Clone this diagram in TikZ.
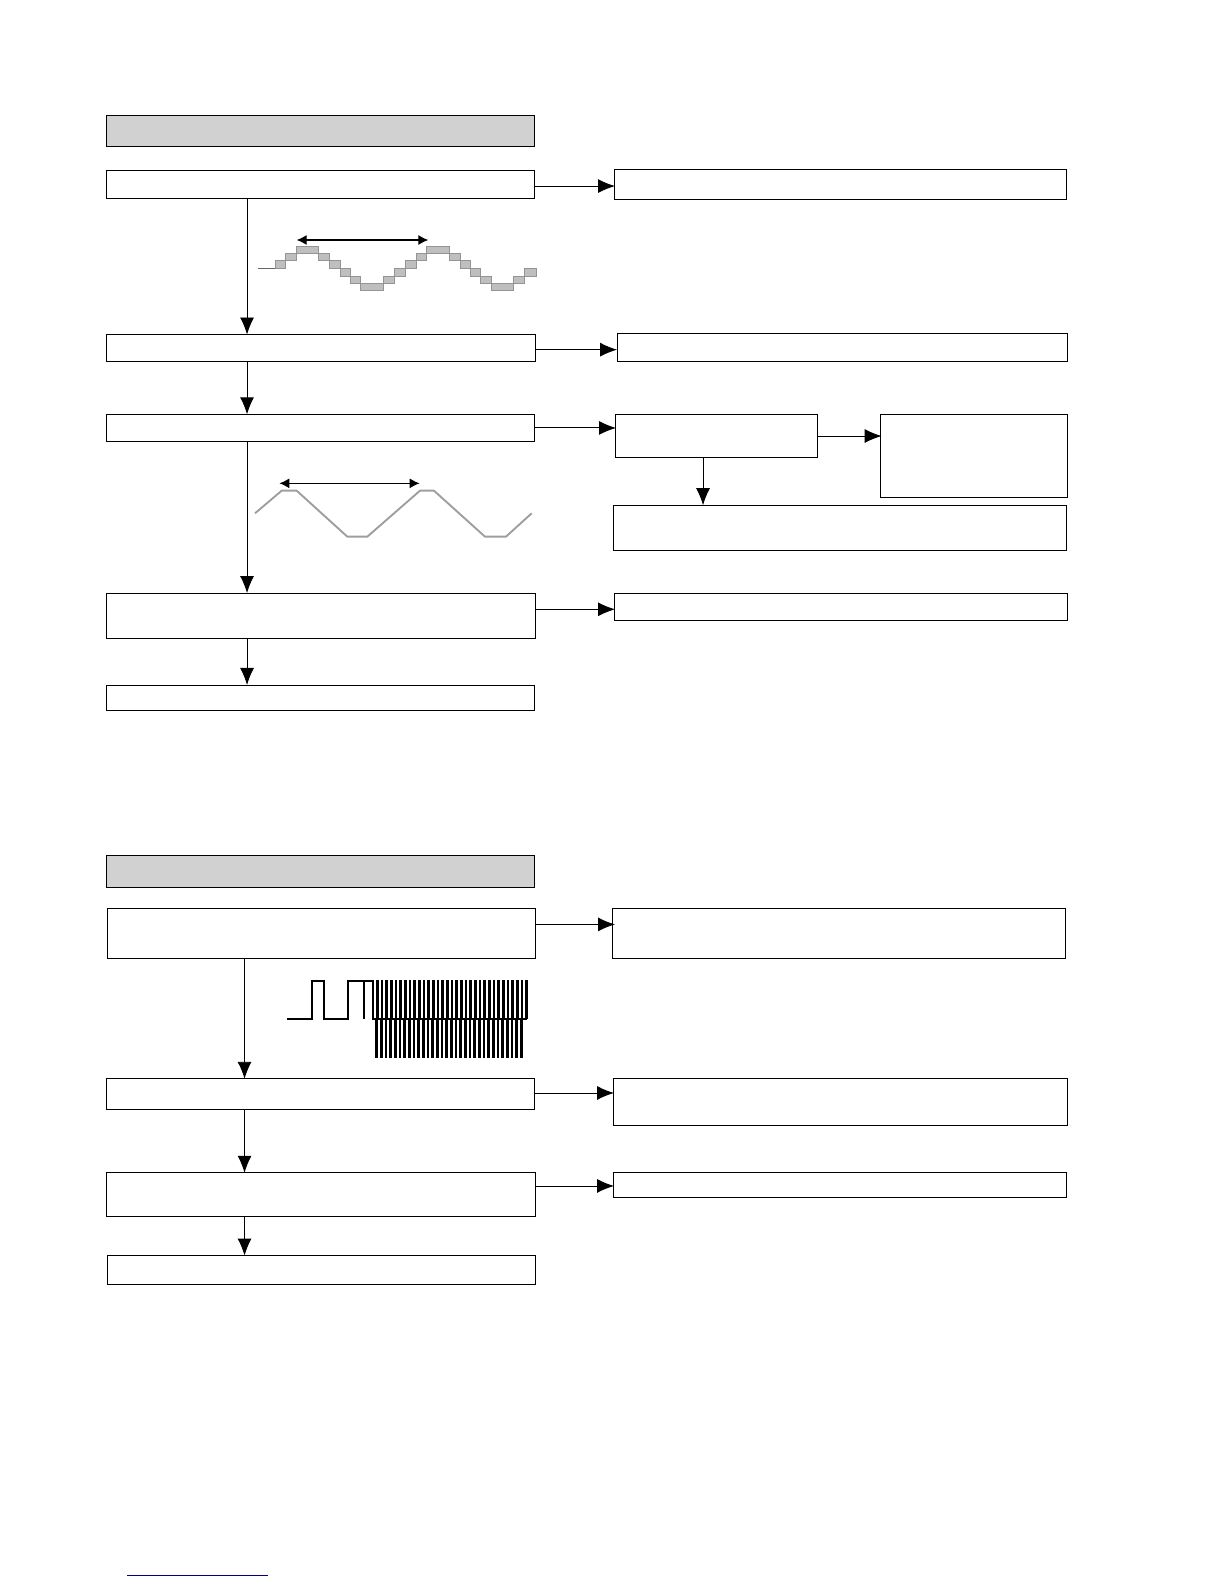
\documentclass[tikz,border=0pt]{standalone}
\usetikzlibrary{arrows.meta}
\definecolor{rulenavy}{RGB}{0,0,128}
\newcommand{\bx}[6][boxplain]{%
  \pgfmathsetmacro{\cxv}{(#3+#5)/2*1.0099}%
  \pgfmathsetmacro{\cyv}{-(#4+#6)/2*1.0099-0.25}%
  \pgfmathsetmacro{\wv}{(#5-#3)*1.0099}%
  \pgfmathsetmacro{\hv}{(#6-#4)*1.0099}%
  \node[#1,minimum width=\wv pt,minimum height=\hv pt] (#2) at (\cxv,\cyv) {};%
}
\tikzset{
  boxplain/.style={draw=black,fill=white,line width=0.9pt,inner sep=0pt,outer sep=0pt},
  boxhead/.style={boxplain,fill=black!18},
  arr/.style={draw=black,line width=0.9pt,-{Latex[length=17pt,width=14pt]}},
  dbl/.style={draw=black,line width=1.2pt,{Latex[length=10pt,width=10pt]}-{Latex[length=10pt,width=10pt]}},
  stair/.style={fill=black!25,draw=black!42,line width=0.9pt},
  tri/.style={draw=black!38,line width=1.9pt,line join=round},
  pulse/.style={draw=black,line width=2.7pt},
  pagerule/.style={draw=rulenavy,line width=1pt}
}
\begin{document}
\begin{tikzpicture}[x=1pt,y=1pt]
\useasboundingbox (0,0) rectangle (1224,-1584);
\bx[boxhead]{ha}{105}{114}{529}{145}
\bx{aa}{105}{169}{529}{196}
\bx{ra}{608}{168}{1056}{197}
\bx{ab}{105}{331}{530}{358}
\bx{rb}{611}{330}{1057}{358}
\bx{ac}{105}{410}{529}{437}
\bx{rc}{609}{410}{809}{453}
\bx{rd}{872}{410}{1057}{492}
\bx{re}{607}{500}{1056}{545}
\bx{ad}{105}{587}{530}{632}
\bx{rf}{608}{587}{1057}{614}
\bx{ae}{105}{678}{529}{703}
\bx[boxhead]{hb}{105}{847}{529}{878}
\bx{ba}{106}{899}{530}{949}
\bx{sa}{606}{899}{1055}{949}
\bx{bb}{105}{1068}{529}{1098}
\bx{sb}{607}{1068}{1057}{1114}
\bx{bc}{105}{1161}{530}{1204}
\bx{sc}{607}{1161}{1056}{1185}
\bx{bd}{106}{1243}{530}{1272}
% vertical connectors
\draw[arr] ([xshift=141]aa.south west) -- ([xshift=141]aa.south west |- ab.north);
\draw[arr] ([xshift=141]ab.south west) -- ([xshift=141]ab.south west |- ac.north);
\draw[arr] ([xshift=141]ac.south west) -- ([xshift=141]ac.south west |- ad.north);
\draw[arr] ([xshift=141]ad.south west) -- ([xshift=141]ad.south west |- ae.north);
\draw[arr] ([xshift=137.5]ba.south west) -- ([xshift=137.5]ba.south west |- bb.north);
\draw[arr] ([xshift=138.5]bb.south west) -- ([xshift=138.5]bb.south west |- bc.north);
\draw[arr] ([xshift=138.5]bc.south west) -- ([xshift=138.5]bc.south west |- bd.north);
\draw[arr] ([xshift=88]rc.south west) -- ([xshift=88]rc.south west |- re.north);
% horizontal connectors
\draw[arr] ([yshift=-1.5]aa.east) -- ([yshift=-1.5,xshift=1]aa.east -| ra.west);
\draw[arr] ([yshift=-1.5]ab.east) -- ([yshift=-1.5]ab.east -| rb.west);
\draw[arr] (ac.east) -- ([xshift=1]ac.east -| rc.west);
\draw[arr] (rc.east) -- ([xshift=1]rc.east -| rd.west);
\draw[arr] ([yshift=6.5]ad.east) -- ([yshift=6.5,xshift=1]ad.east -| rf.west);
\draw[arr] ([yshift=9]ba.east) -- ([yshift=9,xshift=3]ba.east -| sa.west);
\draw[arr] ([yshift=1]bb.east) -- ([yshift=1,xshift=1]bb.east -| sb.west);
\draw[arr] ([yshift=8.5]bc.east) -- ([yshift=8.5,xshift=1]bc.east -| sc.west);
% stepped wave
\begin{scope}[shift={(240,-220)},x=0.3333pt,y=-0.3333pt]
\draw[draw=black!60,line width=0.8pt] (55,145) -- (105,145);
\foreach \a/\b/\c/\d in {105/122/135/145,135/100/168/122,168/80/235/100,235/100/268/122,268/122/300/145,300/145/330/168,330/168/362/190,362/190/430/212,430/168/462/190,462/145/495/168,495/122/528/145,528/100/560/122,560/80/627/100,627/100/660/122,660/122/692/145,692/145/722/168,722/168/755/190,755/190/820/212,820/168/853/190,853/145/888/168}
  \path[stair] (\a,\b) rectangle (\c,\d);
\draw[dbl] (170,60) -- (565,60);
\end{scope}
% triangular wave
\begin{scope}[shift={(240,-470)},x=0.3333pt,y=-0.3333pt]
\draw[tri] (45,130) -- (125,62) -- (170,62) -- (322,200) -- (382,200) -- (540,62) -- (582,62) -- (735,200) -- (798,200) -- (875,130);
\draw[dbl] (118,40) -- (539,40);
\end{scope}
% pulse train
\begin{scope}[shift={(280,-970)},x=0.3333pt,y=-0.3333pt]
\draw[pulse,line width=1.8pt,line join=miter] (22,148) -- (97,148) -- (97,32) -- (132,32) -- (132,148) -- (205,148) -- (205,32) -- (280,32) -- (280,148) -- (740,148);
\draw[pulse,line width=2.2pt] (253,32) -- (253,148);
\foreach \i in {1,...,33}
  \draw[pulse] ({278+\i*14},30) -- ({278+\i*14},148);
\foreach \i in {0,...,31}
  \draw[pulse] ({290+\i*14},148) -- ({290+\i*14},265);
\end{scope}
% rule at page foot
\draw[pagerule] (127,-1575) -- (268,-1575);
\end{tikzpicture}
\end{document}
